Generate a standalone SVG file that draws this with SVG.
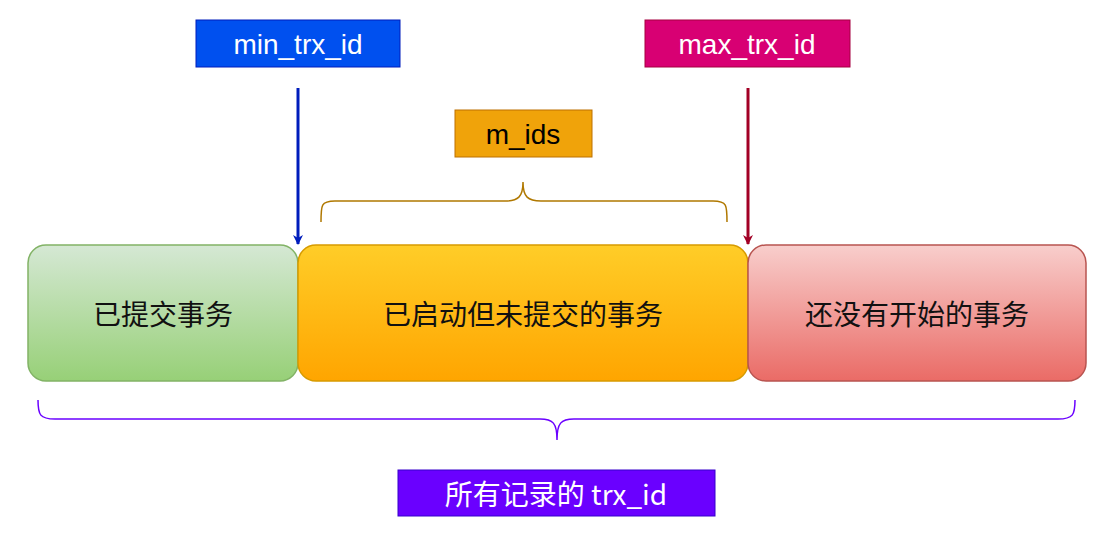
<svg xmlns="http://www.w3.org/2000/svg" width="1104" height="537" viewBox="0 0 1104 537">
<defs>
<linearGradient id="gG" x1="0" y1="0" x2="0" y2="1"><stop offset="0" stop-color="#d5e8d4"/><stop offset="1" stop-color="#97d077"/></linearGradient>
<linearGradient id="gO" x1="0" y1="0" x2="0" y2="1"><stop offset="0" stop-color="#ffcd28"/><stop offset="1" stop-color="#ffa500"/></linearGradient>
<linearGradient id="gR" x1="0" y1="0" x2="0" y2="1"><stop offset="0" stop-color="#f8cecc"/><stop offset="1" stop-color="#ea6b66"/></linearGradient>
<marker id="aB" markerWidth="10" markerHeight="10" refX="9" refY="5" orient="auto" markerUnits="userSpaceOnUse" viewBox="0 0 10 10"><path d="M0,0 L10,5 L0,10 L3,5 z" fill="#001dbc"/></marker>
<marker id="aR" markerWidth="10" markerHeight="10" refX="9" refY="5" orient="auto" markerUnits="userSpaceOnUse" viewBox="0 0 10 10"><path d="M0,0 L10,5 L0,10 L3,5 z" fill="#a20025"/></marker>
</defs>
<style>
.t{font-family:"Liberation Sans","Noto Sans CJK SC",sans-serif;font-size:28px;text-anchor:middle;dominant-baseline:central}
.c{font-family:"Noto Sans CJK SC",sans-serif;font-size:28px;text-anchor:middle;dominant-baseline:central;fill:#111}
.w{fill:#fff}
</style>
<g id="n-committed"><rect x="28" y="245" width="270" height="136" rx="18" fill="url(#gG)" stroke="#82b366" stroke-width="1.5"/><text class="c" x="163" y="313">已提交事务</text></g>
<g id="n-active"><rect x="298" y="245" width="450" height="136" rx="18" fill="url(#gO)" stroke="#d79b00" stroke-width="1.5"/><text class="c" x="523" y="313">已启动但未提交的事务</text></g>
<g id="n-future"><rect x="748" y="245" width="338" height="136" rx="18" fill="url(#gR)" stroke="#b85450" stroke-width="1.5"/><text class="c" x="917" y="313">还没有开始的事务</text></g>
<g id="n-min"><rect x="196" y="20" width="204" height="47" fill="#0050ef" stroke="#001dbc"/><text class="t w" x="298" y="44">min_trx_id</text></g>
<g id="n-max"><rect x="645" y="20" width="205" height="47" fill="#d80073" stroke="#a50040"/><text class="t w" x="747" y="44">max_trx_id</text></g>
<g id="n-mids"><rect x="455" y="110" width="137" height="47" fill="#f0a30a" stroke="#bd7000"/><text class="t" x="523" y="134" fill="#000">m_ids</text></g>
<g id="n-all"><rect x="398" y="470" width="317" height="46" fill="#6a00ff" stroke="#3700cc"/><text class="c w" x="556" y="493" style="fill:#fff">所有记录的 trx_id</text></g>
<g id="connectors" fill="none">
<line x1="298" y1="88" x2="298" y2="244" stroke="#001dbc" stroke-width="3" marker-end="url(#aB)"/>
<line x1="748" y1="88" x2="748" y2="244" stroke="#a20025" stroke-width="3" marker-end="url(#aR)"/>
<path d="M321,222 C321,205 321,201 335,201 L505,201 C518,201 523,197 523,182 C523,197 528,201 541,201 L713,201 C727,201 727,205 727,222" stroke="#b07800" stroke-width="1.5"/>
<path d="M38,400 C38,415 40,419 55,419 L540,419 C553,419 557,423 557,440 C557,423 561,419 574,419 L1058,419 C1073,419 1075,415 1075,400" stroke="#6a00ff" stroke-width="1.5"/>
</g>
</svg>
